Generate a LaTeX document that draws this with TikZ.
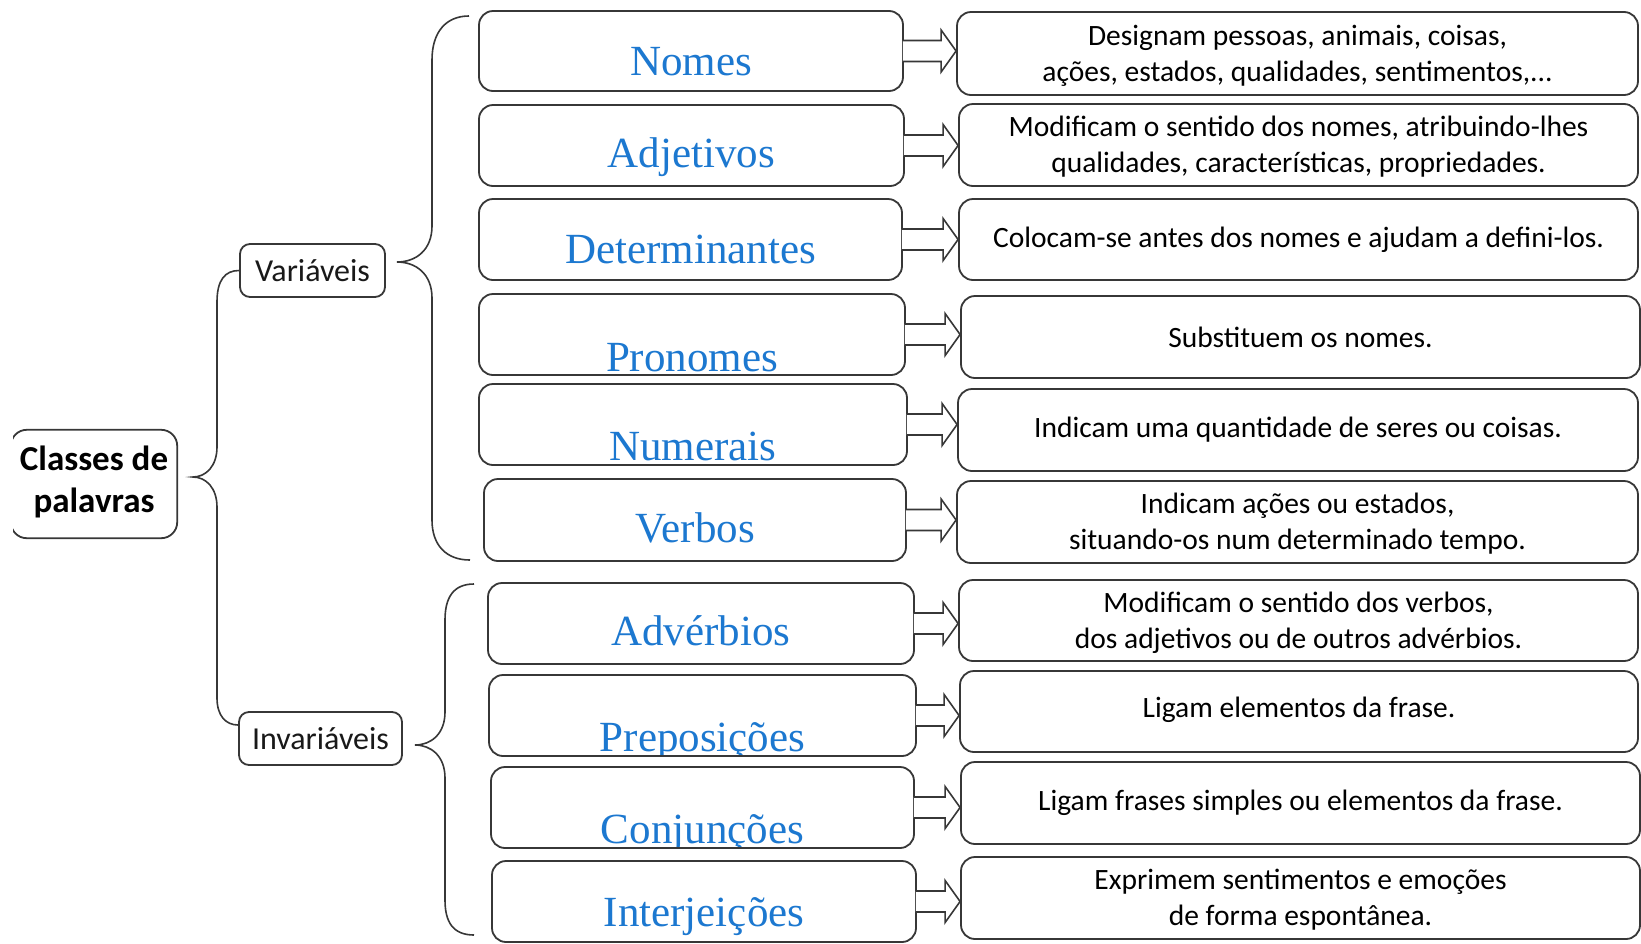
\documentclass[tikz,border=0pt]{standalone}
\usepackage{fontspec}
\setmainfont{Carlito}
\newfontfamily\wordfont{Liberation Serif}
\usetikzlibrary{calc}
\definecolor{wordblue}{RGB}{28,120,208}
\definecolor{edgegray}{RGB}{55,55,55}
\newcommand\blockarrow[2]{%
  \draw[arrowline] let \p1=(#1.east), \p2=(#2.west) in
    (\x1-1pt,\y1+10.5pt) -- (\x2-15pt,\y1+10.5pt) -- (\x2-15pt,\y1+21pt) -- (\x2,\y1)
    -- (\x2-15pt,\y1-21pt) -- (\x2-15pt,\y1-10.5pt) -- (\x1-1pt,\y1-10.5pt);}
\newcommand\wordlabel[3]{%
  \begin{scope}
    \clip[rounded corners=12pt] ([shift={(2pt,2pt)}]#1.south west) rectangle ([shift={(-2pt,-2pt)}]#1.north east);
    \node[wordtxt] (#1t) at (#1.center |- 0,#2) {#3};
  \end{scope}}
\begin{document}
\begin{tikzpicture}[x=1pt,y=-1pt,
  boxline/.style={draw=edgegray, line width=1.8pt},
  rbox/.style={boxline, rounded corners=14pt, inner sep=0pt, fill=white},
  wbox/.style={rbox},
  dbox/.style={rbox, align=center, font=\fontsize{29.5}{36}\selectfont},
  dtwo/.style={dbox, text depth=1pt},
  wordtxt/.style={anchor=base, inner sep=0pt, text=wordblue, font=\wordfont\fontsize{43}{50}\selectfont},
  cat/.style={rbox, rounded corners=10pt, font=\fontsize{32}{38}\selectfont, text=black!90},
  arrowline/.style={draw=edgegray, line width=1.6pt, fill=white, line join=miter},
  brace/.style={draw=edgegray, line width=1.6pt}
]
\useasboundingbox (0,0) rectangle (1641,943);

% root
\node[inner sep=0pt, minimum width=166pt, minimum height=108pt, align=center,
      font=\bfseries\fontsize{35}{42}\selectfont] (cls) at (94,482) {Classes de\\palavras};
\begin{scope}
  \clip (13,0) rectangle (300,943);
  \draw[boxline, rounded corners=16pt] ([yshift=-2pt]cls.south west) rectangle ([yshift=-2pt]cls.north east);
\end{scope}

% categories
\node[cat, minimum width=145pt, minimum height=53pt] (var) at (312.5,270.5) {Variáveis};
\node[cat, minimum width=163pt, minimum height=53pt] (inv) at (320.5,738.5) {Invariáveis};

% word boxes
\node[wbox, minimum width=424pt, minimum height=80pt] (w1) at (691,51) {};
\node[wbox, minimum width=425pt, minimum height=81pt] (w2) at (691.5,145.5) {};
\node[wbox, minimum width=423pt, minimum height=81pt] (w3) at (690.5,239.5) {};
\node[wbox, minimum width=426pt, minimum height=81pt] (w4) at (692,334.5) {};
\node[wbox, minimum width=428pt, minimum height=81pt] (w5) at (693,424.5) {};
\node[wbox, minimum width=422pt, minimum height=82pt] (w6) at (695,520) {};
\node[wbox, minimum width=426pt, minimum height=81pt] (w7) at (701,623.5) {};
\node[wbox, minimum width=427pt, minimum height=81pt] (w8) at (702.5,715.5) {};
\node[wbox, minimum width=423pt, minimum height=81pt] (w9) at (702.5,807.5) {};
\node[wbox, minimum width=424pt, minimum height=81pt] (w10) at (704,901.5) {};

\wordlabel{w1}{75}{Nomes}
\wordlabel{w2}{167.5}{Adjetivos}
\wordlabel{w3}{263}{Determinantes}
\wordlabel{w4}{371.5}{Pronomes}
\wordlabel{w5}{460.5}{Numerais}
\wordlabel{w6}{542}{Verbos}
\wordlabel{w7}{645}{Advérbios}
\wordlabel{w8}{751.5}{Preposições}
\wordlabel{w9}{843.5}{Conjunções}
\wordlabel{w10}{926}{Interjeições}

% description boxes
\node[dtwo, minimum width=681pt, minimum height=83pt] (d1) at (1297.5,53.5) {Designam pessoas, animais, coisas,\\ações, estados, qualidades, sentimentos,...};
\node[dtwo, minimum width=679pt, minimum height=82pt] (d2) at (1298.5,145) {Modificam o sentido dos nomes, atribuindo-lhes\\qualidades, características, propriedades.};
\node[dbox, minimum width=679pt, minimum height=81pt] (d3) at (1298.5,239.5) {Colocam-se antes dos nomes e ajudam a defini-los.};
\node[dbox, minimum width=679pt, minimum height=82pt] (d4) at (1300.5,337) {Substituem os nomes.};
\node[dbox, minimum width=680pt, minimum height=82pt] (d5) at (1298,430) {Indicam uma quantidade de seres ou coisas.};
\node[dtwo, minimum width=681pt, minimum height=82pt] (d6) at (1297.5,522) {Indicam ações ou estados,\\situando-os num determinado tempo.};
\node[dtwo, minimum width=679pt, minimum height=81pt] (d7) at (1298.5,620.5) {Modificam o sentido dos verbos,\\dos adjetivos ou de outros advérbios.};
\node[dbox, minimum width=678pt, minimum height=81pt, text depth=8pt] (d8) at (1299,711.5) {Ligam elementos da frase.};
\node[dbox, minimum width=679pt, minimum height=82pt] (d9) at (1300.5,803) {Ligam frases simples ou elementos da frase.};
\node[dtwo, minimum width=679pt, minimum height=82pt] (d10) at (1300.5,898) {Exprimem sentimentos e emoções\\de forma espontânea.};

% block arrows
\foreach \i in {1,...,10} {\blockarrow{w\i}{d\i}}

% brace from root
\coordinate (tipc) at (193,477);
\draw[brace] (var.west) .. controls (225,270.5) and (217,280) .. (217,302)
  -- (217,447) .. controls (217,466) and (206,477) .. (tipc)
  .. controls (206,477) and (217,488) .. (217,507)
  -- (217,698) .. controls (217,716) and (226,725) .. ([yshift=13.5pt]inv.west);

% brace of Variáveis
\coordinate (tipv) at (397,262);
\coordinate (vtop) at (469,16);
\coordinate (vbot) at (470,560);
\draw[brace] (vtop) .. controls (446,16) and (432,32) .. (432,60)
  -- (432,226) .. controls (432,250) and (416,262) .. (tipv)
  .. controls (416,262) and (432,274) .. (432,298)
  -- (432,520) .. controls (432,545) and (446,560) .. (vbot);

% brace of Invariáveis
\coordinate (tipi) at (415,745);
\coordinate (itop) at (474,584);
\coordinate (ibot) at (474,935);
\draw[brace] (itop) .. controls (453,584) and (445,598) .. (445,620)
  -- (445,712) .. controls (445,734) and (431,745) .. (tipi)
  .. controls (431,745) and (445,756) .. (445,778)
  -- (445,900) .. controls (445,922) and (453,935) .. (ibot);
\end{tikzpicture}
\end{document}
